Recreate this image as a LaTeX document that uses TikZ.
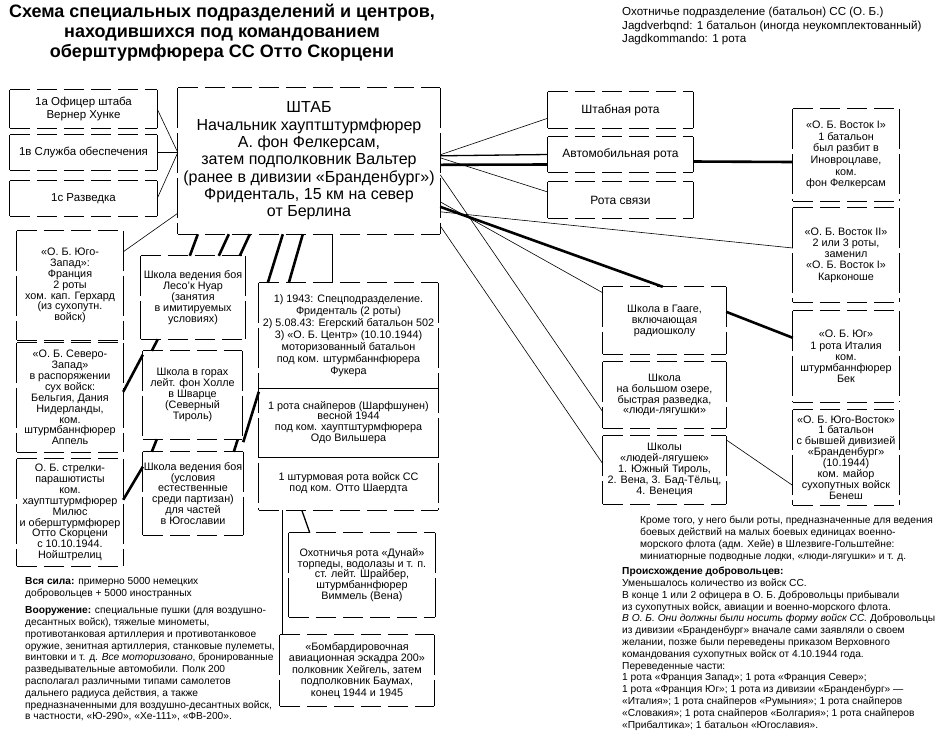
\documentclass[tikz,border=0pt]{standalone}
\usepackage{fontspec}
\setmainfont{Liberation Sans}
\usetikzlibrary{calc}
\newcommand\frm[1]{%
  \draw[line width=0.9pt,dash pattern=on 20pt off 7pt] (#1.north west) -- (#1.north east);
  \draw[line width=0.9pt,dash pattern=on 20pt off 7pt] (#1.south west) -- (#1.south east);
  \draw[line width=0.9pt,dash pattern=on 40pt off 5pt] (#1.north west) -- (#1.south west);
  \draw[line width=0.9pt,dash pattern=on 40pt off 5pt] (#1.north east) -- (#1.south east);}
\begin{document}
\begin{tikzpicture}[x=1pt,y=-1pt,
  bx/.style={inner sep=0pt,align=center,font=\fontsize{10.8}{10.9}\selectfont},
  thin/.style={line width=0.6pt},
  med/.style={line width=1.3pt},
  thk/.style={line width=2.6pt},
  para/.style={anchor=north west,align=left,inner sep=0pt,font=\fontsize{10.2}{11.8}\selectfont},
]
\useasboundingbox (0,0) rectangle (949,732);
\fill[white] (0,0) rectangle (949,732);

% title and notes
\node[font=\bfseries\fontsize{18}{20}\selectfont,align=center,inner sep=0pt] (title) at (222,33)
  {Схема специальных подразделений и центров,\\находившихся под командованием\\оберштурмфюрера СС Отто Скорцени};
\node[para,font=\fontsize{11.6}{13.5}\selectfont] (tr) at (622,7)
  {Охотничье подразделение (батальон) СС (О. Б.)\\Jagdverbqnd: 1 батальон (иногда неукомплектованный)\\Jagdkommando: 1 рота};

% left staff boxes
\node[bx,font=\fontsize{11.5}{12.5}\selectfont,minimum width=147pt,minimum height=38pt] (a1) at (83.5,109) {1а Офицер штаба\\Вернер Хунке};
\node[bx,font=\fontsize{11.5}{12.5}\selectfont,minimum width=147pt,minimum height=35pt] (b1) at (83.5,152.5) {1в Служба обеспечения};
\node[bx,font=\fontsize{11.5}{12.5}\selectfont,minimum width=147pt,minimum height=35pt] (c1) at (83.5,198.5) {1с Разведка};

% HQ
\node[bx,font=\fontsize{16}{17.3}\selectfont,minimum width=262pt,minimum height=146pt] (hq) at (309,161)
  {ШТАБ\\Начальник хауптштурмфюрер\\А. фон Фелкерсам,\\затем подполковник Вальтер\\(ранее в дивизии «Бранденбург»)\\Фриденталь, 15 км на север\\от Берлина};

% right companies
\node[bx,font=\fontsize{12}{13}\selectfont,minimum width=145pt,minimum height=36pt] (shtab) at (620.5,110) {Штабная рота};
\node[bx,font=\fontsize{12}{13}\selectfont,minimum width=145pt,minimum height=35pt] (avto) at (620.5,154.5) {Автомобильная рота};
\node[bx,font=\fontsize{12}{13}\selectfont,minimum width=145pt,minimum height=36pt] (svz) at (620.5,200) {Рота связи};

% right column
\node[bx,font=\fontsize{10.8}{11.7}\selectfont,minimum width=106pt,minimum height=92pt] (v1) at (846,155)
  {«О. Б. Восток I»\\1 батальон\\был разбит в\\Иновроцлаве,\\ком.\\фон Фелкерсам};
\node[bx,font=\fontsize{10.8}{11.2}\selectfont,minimum width=106pt,minimum height=94pt] (v2) at (846,255)
  {«О. Б. Восток II»\\2 или 3 роты,\\заменил\\«О. Б. Восток I»\\Карконоше};
\node[bx,font=\fontsize{10.8}{11.2}\selectfont,minimum width=106pt,minimum height=91pt] (yug) at (846,356.5)
  {«О. Б. Юг»\\1 рота Италия\\ком.\\штурмбаннфюрер\\Бек};
\node[bx,minimum width=106pt,minimum height=95pt] (yv) at (846,457.5)
  {«О. Б. Юго-Восток»\\1 батальон\\с бывшей дивизией\\«Бранденбург»\\(10.1944)\\ком. майор\\сухопутных войск\\Бенеш};

% schools, middle right
\node[bx,minimum width=123pt,minimum height=67pt] (haag) at (664.5,320.5) {Школа в Гааге,\\включающая\\радиошколу};
\node[bx,minimum width=123pt,minimum height=66pt] (oz) at (664.5,395) {Школа\\на большом озере,\\быстрая разведка,\\«люди-лягушки»};
\node[bx,minimum width=123pt,minimum height=68pt] (shk) at (664.5,470) {Школы\\«людей-лягушек»\\1. Южный Тироль,\\2. Вена, 3. Бад-Тёльц,\\4. Венеция};

% left column
\node[bx,minimum width=106pt,minimum height=109pt] (yz) at (70,285.5)
  {«О. Б. Юго-\\Запад»:\\Франция\\2 роты\\хом. кап. Герхард\\(из сухопутн.\\войск)};
\node[bx,minimum width=106pt,minimum height=109pt] (nw) at (70,397.5)
  {«О. Б. Северо-\\Запад»\\в распоряжении\\сух войск:\\Бельгия, Дания\\Нидерланды,\\ком.\\штурмбаннфюрер\\Аппель};
\node[bx,minimum width=106pt,minimum height=107pt] (str) at (70,512.5)
  {О. Б. стрелки-\\парашютисты\\ком.\\хауптштурмфюрер\\Милюс\\и оберштурмфюрер\\Отто Скорцени\\с 10.10.1944.\\Нойштрелиц};

% schools, middle left
\node[bx,minimum width=104pt,minimum height=83pt] (les) at (193,297.5)
  {Школа ведения боя\\Лесо'к Нуар\\(занятия\\в имитируемых\\условиях)};
\node[bx,minimum width=99pt,minimum height=88pt] (gor) at (192.5,395)
  {Школа в горах\\лейт. фон Холле\\в Шварце\\(Северный\\Тироль)};
\node[bx,minimum width=100pt,minimum height=83pt] (shvb) at (193,493.5)
  {Школа ведения боя\\(условия\\естественные\\среди партизан)\\для частей\\в Югославии};

% special unit column
\node[bx,font=\fontsize{10.8}{12}\selectfont,minimum width=179pt,minimum height=105pt] (s1) at (348.5,335.5)
  {1) 1943: Спецподразделение.\\Фриденталь (2 роты)\\2) 5.08.43: Егерский батальон 502\\3) «О. Б. Центр» (10.10.1944)\\моторизованный батальон\\под ком. штурмбаннфюрера\\Фукера};
\node[bx,minimum width=179pt,minimum height=69pt] (s2) at (348.5,422.5)
  {1 рота снайперов (Шарфшунен)\\весной 1944\\под ком. хауптштурмфюрера\\Одо Вильшера};
\node[bx,minimum width=179pt,minimum height=53pt] (s3) at (348.5,483.5)
  {1 штурмовая рота войск СС\\под ком. Отто Шаердта};
\node[bx,minimum width=146pt,minimum height=84pt] (dun) at (362,575)
  {Охотничья рота «Дунай»\\торпеды, водолазы и т. п.\\ст. лейт. Шрайбер,\\штурмбаннфюрер\\Виммель (Вена)};
\node[bx,font=\fontsize{10.8}{11.5}\selectfont,minimum width=154pt,minimum height=71pt] (bomb) at (357,670.5)
  {«Бомбардировочная\\авиационная эскадра 200»\\полковник Хейгель, затем\\подполковник Баумах,\\конец 1944 и 1945};

% frames
\foreach \n in {a1,b1,c1,hq,shtab,avto,svz,v1,v2,yug,yv,haag,oz,shk,yz,nw,str,les,gor,shvb,dun,bomb}{\frm{\n}}
\draw[line width=0.9pt,dash pattern=on 20pt off 7pt] (s1.north west) -- (s1.north east);
\draw[line width=0.9pt,dash pattern=on 20pt off 7pt] (s3.south west) -- (s3.south east);
\draw[line width=0.9pt,dash pattern=on 40pt off 5pt] (s1.north west) -- (s3.south west);
\draw[line width=0.9pt,dash pattern=on 40pt off 5pt] (s1.north east) -- (s3.south east);
\draw[line width=0.9pt] (s1.south west) -- (s1.south east);
\draw[line width=0.9pt] (s2.south west) -- (s2.south east);

% paragraphs
\node[para] (vs) at (25,577) {\textbf{Вся сила:} примерно 5000 немецких\\добровольцев + 5000 иностранных};
\node[para] (vo) at (25,606) {\textbf{Вооружение:} специальные пушки (для воздушно-\\десантных войск), тяжелые минометы,\\противотанковая артиллерия и противотанковое\\оружие, зенитная артиллерия, станковые пулеметы,\\винтовки и т. д. \textit{Все моторизовано}, бронированные\\разведывательные автомобили. Полк 200\\располагал различными типами самолетов\\дальнего радиуса действия, а также\\предназначенными для воздушно-десантных войск,\\в частности, «Ю-290», «Хе-111», «ФВ-200».};
\node[para] (kr) at (640,516) {Кроме того, у него были роты, предназначенные для ведения\\боевых действий на малых боевых единицах военно-\\морского флота (адм. Хейе) в Шлезвиге-Гольштейне:\\миниатюрные подводные лодки, «люди-лягушки» и т. д.};
\node[para] (pr) at (622,567) {\textbf{Происхождение добровольцев:}\\Уменьшалось количество из войск СС.\\В конце 1 или 2 офицера в О. Б. Добровольцы прибывали\\из сухопутных войск, авиации и военно-морского флота.\\\textit{В О. Б. Они должны были носить форму войск СС.} Добровольцы\\из дивизии «Бранденбург» вначале сами заявляли о своем\\желании, позже были переведены приказом Верховного\\командования сухопутных войск от 4.10.1944 года.\\Переведенные части:\\1 рота «Франция Запад»; 1 рота «Франция Север»;\\1 рота «Франция Юг»; 1 рота из дивизии «Бранденбург» —\\«Италия»; 1 рота снайперов «Румыния»; 1 рота снайперов\\«Словакия»; 1 рота снайперов «Болгария»; 1 рота снайперов\\«Прибалтика»; 1 батальон «Югославия».};

% connectors: staff to HQ
\draw[thin] (a1.east) -- (hq.west |- b1.east);
\draw[thin] (b1.east) -- (hq.west |- b1.east);
\draw[thin] (c1.east) -- (hq.west |- b1.east);
\draw[thin] ($(yz.north east)+(0,21)$) -- ($(hq.south west)+(0,-21)$);

% HQ down to schools and special unit
\draw[thk] ($(hq.south west)+(20,0)$) -- ($(les.north west)+(49,0)$);
\draw[thk] ($(hq.south west)+(51,0)$) -- ($(les.north west)+(78,0)$);
\draw[thk] ($(hq.south west)+(72,0)$) -- ($(les.north west)+(99,0)$);
\draw[thk] ($(hq.south west)+(105,0)$) -- ($(s1.north west)+(9,0)$);
\draw[thk] ($(hq.south west)+(125,0)$) -- ($(s1.north west)+(30,0)$);
\draw[med] ($(hq.south west)+(155,0)$) -- ($(s1.north west)+(74,0)$);
\draw[thk] ($(les.south west)+(17,0)$) -- ($(gor.north west)+(9,0)$);
\draw[thk] ($(nw.north east)+(0,49)$) -- ($(gor.north west)+(0,4)$);
\draw[thk] ($(gor.south west)+(14,0)$) -- ($(shvb.north west)+(9,0)$);
\draw[thk] ($(gor.south west)+(95,0)$) -- ($(shvb.north west)+(91,0)$);
\draw[thk] ($(str.north east)+(0,41)$) -- ($(shvb.north west)+(0,15)$);
\draw[thk] ($(gor.south east)+(1,3)$) -- ($(s2.north west)+(0,4)$);
\draw[med] ($(s3.south west)+(24,0)$) -- ($(bomb.north west)+(3,0)$);
\draw[med] ($(s3.south west)+(43,0)$) -- ($(dun.north west)+(21,0)$);

% HQ to the right
\draw[thin] ($(shtab.south west)+(0,-10)$) -- ($(hq.north east)+(0,67)$);
\draw[med] ($(hq.north east)+(0,68)$) -- (avto.west);
\draw[thk] ($(hq.north east)+(0,77)$) -- ($(avto.west)+(0,10)$);
\draw[thk] ($(avto.east)+(0,7)$) -- ($(v1.west)+(0,7)$);
\draw[thin] ($(hq.north east)+(0,70)$) -- ($(svz.west)+(0,-8)$);
\draw[thin] ($(hq.north east)+(0,124)$) -- ($(v2.west)+(0,-7)$);
\draw[thk] ($(hq.north east)+(0,119)$) -- ($(haag.north west)+(60,0)$);
\draw[thk] ($(haag.north east)+(0,25)$) -- ($(yug.north west)+(0,27)$);
\draw[thin] ($(hq.north east)+(0,114)$) -- ($(haag.north west)+(0,6)$);
\draw[thin] ($(hq.north east)+(0,87)$) -- ($(oz.north west)+(0,50)$);
\draw[thin] ($(hq.north east)+(0,138)$) -- ($(shk.north west)+(0,28)$);
\draw[thin] ($(shk.north east)+(0,4)$) -- ($(yv.west)+(0,28)$);
\end{tikzpicture}
\end{document}
